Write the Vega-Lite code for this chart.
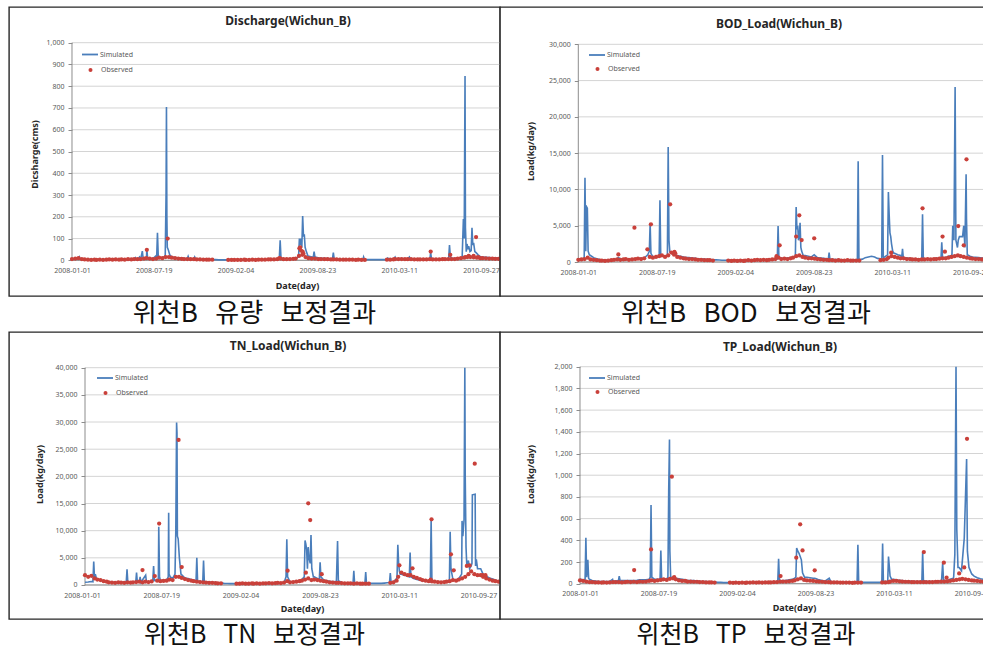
{
"$schema": "https://vega.github.io/schema/vega-lite/v6.json",
"padding": {"left": 8, "top": 6, "right": 0, "bottom": 0},
"background": "white",
"spacing": 0,
"columns": 2,
"align": "each",
"bounds": "flush",
"config": {
  "view": {"stroke": "#262626", "strokeWidth": 1.4, "fill": "white"},
  "axis": {"labelFont": "Noto Sans", "labelFontSize": 7, "labelColor": "#595959", "titleFont": "Noto Sans", "titleFontSize": 9, "titleFontWeight": "bold", "titleColor": "#262626", "grid": false, "domain": false, "labelFlush": false, "labelOverlap": false},
  "legend": {"labelFont": "Noto Sans", "labelFontSize": 7, "labelColor": "#595959", "padding": 0},
  "title": {"font": "Noto Sans", "fontSize": 12, "fontWeight": "bold", "color": "#262626"}
},
"resolve": {"scale": {"stroke": "independent", "fill": "independent", "x": "independent", "y": "independent"}, "legend": {"stroke": "independent", "fill": "independent"}},
"datasets": {
"gq": [{"g":0},{"g":100},{"g":200},{"g":300},{"g":400},{"g":500},{"g":600},{"g":700},{"g":800},{"g":900},{"g":1000}],
"gb": [{"g":0},{"g":5000},{"g":10000},{"g":15000},{"g":20000},{"g":25000},{"g":30000}],
"gn": [{"g":0},{"g":5000},{"g":10000},{"g":15000},{"g":20000},{"g":25000},{"g":30000},{"g":35000},{"g":40000}],
"gp": [{"g":0},{"g":200},{"g":400},{"g":600},{"g":800},{"g":1000},{"g":1200},{"g":1400},{"g":1600},{"g":1800},{"g":2000}],
"main": [
{"d":"2008-01-01","qs":5,"qo":6,"bs":400,"bo":300,"ns":500,"no":1800,"ps":40,"po":30},
{"d":"2008-01-09","qs":6,"qo":8,"bs":450,"bo":350,"ns":550,"no":1500,"ps":35,"po":25},
{"d":"2008-01-17","qs":6,"qo":10,"bo":400,"ns":650,"no":1700,"po":20},
{"d":"2008-01-25","qs":5,"qo":6,"bo":600,"no":1200,"ps":40,"po":15},
{"d":"2008-02-01","qs":4,"qo":4,"bs":900,"bo":350,"ns":1100,"no":1000,"ps":30,"po":15},
{"d":"2008-02-09","qs":3,"qo":3,"bs":600,"bo":300,"ns":900,"no":900,"ps":25,"po":12},
{"d":"2008-02-17","qs":3,"qo":2,"bs":450,"bo":250,"ns":750,"no":700,"ps":22,"po":12},
{"d":"2008-02-25","qs":3,"qo":3,"bs":350,"bo":200,"ns":650,"no":600,"ps":20,"po":10},
{"d":"2008-03-01","qs":3,"qo":2,"bs":300,"bo":200,"ns":550,"no":500,"ps":20,"po":12},
{"d":"2008-03-09","qs":3,"qo":3,"bs":300,"bo":150,"ns":500,"no":450,"ps":20,"po":10},
{"d":"2008-03-17","qs":3,"qo":2,"bs":250,"bo":200,"ns":450,"no":400,"ps":22,"po":12},
{"d":"2008-03-25","qs":4,"qo":3,"bs":300,"bo":250,"ns":450,"no":500,"ps":25,"po":15},
{"d":"2008-04-01","qs":4,"qo":4,"bs":350,"bo":300,"ns":500,"no":450,"ps":25,"po":15},
{"d":"2008-04-09","qs":3,"qo":3,"bs":400,"bo":350,"ns":500,"no":400,"po":15},
{"d":"2008-04-17","qs":3,"qo":4,"bs":450,"bo":300,"no":500,"ps":28,"po":12},
{"d":"2008-04-25","qs":4,"qo":3,"bs":400,"bo":350,"ns":500,"no":450,"ps":30,"po":15},
{"d":"2008-05-01","qs":4,"qo":4,"bs":400,"bo":400,"ns":500,"no":500,"ps":30,"po":18},
{"d":"2008-05-09","qs":3,"qo":3,"bs":350,"bo":300,"no":550,"ps":28,"po":15},
{"d":"2008-05-17","qs":4,"qo":5,"bs":400,"bo":350,"ns":500,"no":600,"ps":30,"po":18},
{"d":"2008-05-25","qs":4,"qo":4,"bs":450,"bo":400,"no":500,"ps":32,"po":15},
{"d":"2008-06-01","qs":5,"qo":6,"bs":500,"bo":450,"no":600,"ps":35,"po":20},
{"d":"2008-06-09","qs":4,"qo":5,"bs":500,"bo":400,"ns":550,"no":550,"ps":35,"po":18},
{"d":"2008-06-17","qs":6,"qo":6,"bs":550,"bo":500,"ns":600,"no":650,"ps":35,"po":20},
{"d":"2008-06-25","qs":8,"qo":8,"bo":1750,"no":1650,"ps":40,"po":25},
{"d":"2008-07-01","qs":8,"qo":10,"bo":700,"ns":900,"no":800,"po":30},
{"d":"2008-07-09","qs":8,"qo":8,"bs":700,"bo":600,"ns":900,"no":700,"ps":40,"po":25},
{"d":"2008-07-17","qs":8,"qo":6,"bs":650,"bo":700,"ns":800,"no":750,"ps":40,"po":30},
{"d":"2008-07-25","qo":8,"bo":800,"ns":900,"no":800,"po":35},
{"d":"2008-08-01","qs":12,"qo":12,"bs":900,"bo":900,"no":1000,"ps":45,"po":40},
{"d":"2008-08-09","qs":10,"qo":10,"bs":800,"bo":700,"ns":1200,"no":900,"ps":40,"po":35},
{"d":"2008-08-17","qo":15,"bo":900,"no":1500,"po":45},
{"d":"2008-08-25","qo":15,"bs":1200,"bo":1300,"no":1500,"po":50},
{"d":"2008-09-01","qs":15,"qo":12,"bs":1000,"bo":1000,"no":1300,"ps":50,"po":40},
{"d":"2008-09-09","qs":13,"qo":10,"bs":900,"bo":700,"ns":1300,"no":1100,"ps":45,"po":30},
{"d":"2008-09-17","qs":12,"qo":8,"bs":800,"bo":600,"ns":1200,"no":900,"ps":40,"po":25},
{"d":"2008-09-25","qs":10,"qo":7,"bs":700,"bo":500,"ns":1000,"no":800,"ps":35,"po":25},
{"d":"2008-10-01","qs":9,"qo":6,"bs":650,"bo":450,"ns":900,"no":700,"ps":30,"po":20},
{"d":"2008-10-09","qs":8,"qo":6,"bs":600,"bo":400,"no":600,"ps":30,"po":20},
{"d":"2008-10-17","qs":7,"qo":5,"bs":550,"bo":400,"ns":700,"no":550,"ps":28,"po":18},
{"d":"2008-10-25","qs":7,"qo":5,"bs":500,"bo":350,"no":500,"ps":25,"po":18},
{"d":"2008-11-01","qs":5,"qo":4,"bs":450,"bo":300,"ns":600,"no":450,"ps":22,"po":15},
{"d":"2008-11-09","qs":5,"qo":4,"bs":400,"bo":300,"ns":550,"no":400,"ps":20,"po":15},
{"d":"2008-11-17","qs":4,"qo":3,"bs":400,"bo":250,"ns":500,"no":400,"ps":20,"po":12},
{"d":"2008-11-25","qs":4,"qo":3,"bs":350,"bo":250,"ns":450,"no":350,"ps":18,"po":12},
{"d":"2008-12-01","qs":4,"qo":3,"bs":350,"bo":250,"ns":400,"no":300,"ps":15,"po":12},
{"d":"2008-12-09","qs":3,"qo":3,"bs":300,"bo":200,"ns":350,"no":300,"ps":15,"po":10},
{"d":"2008-12-17","qs":3,"bs":300,"ns":300,"ps":12},
{"d":"2008-12-25","qs":2,"bs":280,"ns":280,"ps":12},
{"d":"2009-01-01","qs":2,"bs":250,"ns":250,"ps":10},
{"d":"2009-01-09","qs":2,"bs":250,"ns":250,"ps":10},
{"d":"2009-01-17","qs":2,"qo":2,"bs":250,"bo":200,"ns":240,"no":250,"ps":10,"po":10},
{"d":"2009-01-25","qs":2,"qo":2,"bs":250,"bo":150,"ns":230,"no":250,"ps":10,"po":8},
{"d":"2009-02-01","qs":2,"qo":2,"bs":240,"bo":200,"ns":220,"no":300,"ps":10,"po":10},
{"d":"2009-02-09","qs":2,"qo":2,"bs":240,"bo":150,"ns":200,"no":250,"ps":10,"po":8},
{"d":"2009-02-17","qs":2,"qo":2,"bs":230,"bo":200,"ns":200,"no":250,"ps":9,"po":10},
{"d":"2009-02-25","qs":2,"qo":3,"bs":230,"bo":150,"ns":200,"no":300,"ps":9,"po":8},
{"d":"2009-03-01","qs":2,"qo":2,"bs":230,"bo":200,"ns":200,"no":250,"ps":9,"po":10},
{"d":"2009-03-09","qs":2,"qo":2,"bs":240,"bo":250,"ns":200,"no":300,"ps":10,"po":10},
{"d":"2009-03-17","qs":2,"qo":3,"bs":250,"bo":200,"ns":220,"no":250,"ps":10,"po":12},
{"d":"2009-03-25","qs":2,"qo":2,"bs":260,"bo":250,"ns":230,"no":300,"ps":11,"po":10},
{"d":"2009-04-01","qs":2,"qo":3,"bs":280,"bo":300,"ns":250,"no":300,"ps":12,"po":12},
{"d":"2009-04-09","qs":2,"qo":3,"bs":300,"bo":250,"ns":260,"no":350,"ps":12,"po":10},
{"d":"2009-04-17","qs":3,"qo":3,"bs":300,"bo":300,"ns":280,"no":300,"ps":13,"po":12},
{"d":"2009-04-25","qs":3,"qo":4,"bs":320,"bo":250,"ns":300,"no":350,"ps":14,"po":12},
{"d":"2009-05-01","qs":3,"qo":4,"bs":330,"bo":300,"ns":300,"no":400,"ps":15,"po":12},
{"d":"2009-05-09","qs":3,"qo":4,"bs":350,"bo":350,"ns":320,"no":350,"ps":15,"po":14},
{"d":"2009-05-17","qs":4,"qo":5,"bs":380,"bo":400,"ns":350,"no":450,"ps":18,"po":15},
{"d":"2009-05-25","qo":8,"bo":600,"no":700,"ps":25,"po":20},
{"d":"2009-06-01","qs":6,"qo":5,"bs":500,"bo":400,"ns":600,"no":500,"ps":30,"po":20},
{"d":"2009-06-09","qs":6,"qo":5,"bs":500,"bo":450,"ns":600,"no":550,"ps":30,"po":20},
{"d":"2009-06-17","qs":7,"qo":6,"bs":550,"bo":400,"ns":700,"no":600,"ps":35,"po":22},
{"d":"2009-06-25","qs":8,"qo":7,"bs":600,"bo":500,"ns":800,"no":700,"ps":40,"po":25},
{"d":"2009-07-01","qs":10,"qo":8,"bs":700,"bo":600,"ns":1000,"no":800,"ps":50,"po":30},
{"d":"2009-07-09","qo":20,"bo":800,"no":1000,"po":40},
{"d":"2009-07-17","qo":25,"bo":900,"no":1200,"po":50},
{"d":"2009-07-25","qo":15,"bo":700,"no":900,"po":35},
{"d":"2009-08-01","qs":20,"qo":10,"bs":900,"bo":600,"ns":1500,"no":1000,"ps":60,"po":30},
{"d":"2009-08-09","qs":15,"qo":8,"bs":800,"bo":500,"ns":1200,"no":900,"ps":55,"po":28},
{"d":"2009-08-17","qo":8,"bs":700,"bo":500,"no":800,"ps":50,"po":25},
{"d":"2009-08-25","qs":12,"qo":6,"bo":450,"ns":900,"no":700,"ps":45,"po":22},
{"d":"2009-09-01","qs":10,"qo":6,"bs":600,"bo":400,"ns":800,"no":600,"ps":35,"po":20},
{"d":"2009-09-09","qs":9,"qo":5,"bs":550,"bo":350,"ns":700,"no":500,"ps":30,"po":18},
{"d":"2009-09-17","qs":8,"qo":5,"bs":500,"bo":300,"ns":650,"no":450,"ps":25,"po":15},
{"d":"2009-09-25","qs":7,"qo":4,"bs":450,"bo":300,"ns":600,"no":400,"po":15},
{"d":"2009-10-01","qo":4,"bo":250,"no":400,"ps":20,"po":12},
{"d":"2009-10-09","qs":5,"qo":4,"bs":380,"bo":250,"ns":450,"no":350,"ps":18,"po":12},
{"d":"2009-10-17","qs":5,"qo":3,"bs":350,"bo":200,"ns":400,"no":300,"ps":15,"po":12},
{"d":"2009-10-25","qs":4,"qo":3,"bs":330,"bo":250,"ns":380,"no":300,"ps":14,"po":10},
{"d":"2009-11-01","qs":4,"qo":3,"bs":320,"bo":200,"ns":350,"no":300,"ps":13,"po":10},
{"d":"2009-11-09","qs":4,"qo":3,"bs":300,"bo":200,"no":250,"ps":12,"po":10},
{"d":"2009-11-17","qs":3,"qo":3,"bs":300,"bo":250,"ns":320,"no":300,"ps":12,"po":10},
{"d":"2009-11-25","qs":3,"qo":2,"bs":300,"bo":200,"ns":300,"no":250,"ps":12,"po":8},
{"d":"2009-12-01","qs":3,"qo":3,"bs":300,"bo":200,"ns":300,"no":250,"ps":12,"po":10},
{"d":"2009-12-09","qs":3,"qo":2,"bs":300,"bo":200,"no":250,"po":10},
{"d":"2009-12-17","qs":3,"qo":2,"bs":350,"bo":200,"ns":300,"no":250,"ps":12,"po":10},
{"d":"2009-12-25","qs":3,"bs":400,"ns":300,"ps":12},
{"d":"2010-01-01","qs":3,"bs":600,"ns":300,"ps":12},
{"d":"2010-01-09","qs":3,"bs":700,"ns":300,"ps":12},
{"d":"2010-01-17","qs":3,"bs":800,"ns":300,"ps":12},
{"d":"2010-01-25","qs":3,"bs":700,"ns":350,"ps":12},
{"d":"2010-02-01","qs":3,"bs":500,"ns":400,"ps":12},
{"d":"2010-02-09","qs":3,"qo":3,"bs":450,"bo":250,"no":400,"po":12},
{"d":"2010-02-17","qs":4,"qo":3,"bs":600,"bo":300,"ns":600,"no":500,"ps":20,"po":12},
{"d":"2010-02-25","qs":6,"qo":4,"bs":900,"bo":400,"ns":1200,"no":800,"po":15},
{"d":"2010-03-01","qo":6,"bo":600,"no":1500,"po":20},
{"d":"2010-03-09","qs":8,"qo":6,"bo":800,"ns":2000,"no":2300,"ps":40,"po":25},
{"d":"2010-03-17","qs":8,"qo":6,"bs":1200,"bo":700,"ns":1800,"no":2000,"ps":35,"po":25},
{"d":"2010-03-25","qs":7,"qo":5,"bs":1000,"bo":600,"ns":1600,"no":1800,"ps":30,"po":22},
{"d":"2010-04-01","qs":7,"qo":5,"bs":900,"bo":500,"no":1800,"ps":28,"po":20},
{"d":"2010-04-09","qs":6,"qo":5,"bs":600,"bo":500,"ns":1200,"no":1500,"ps":25,"po":18},
{"d":"2010-04-17","qs":6,"qo":4,"bs":550,"bo":400,"ns":1000,"no":1300,"ps":22,"po":18},
{"d":"2010-04-25","qs":5,"qo":4,"bs":500,"bo":400,"ns":900,"no":1100,"ps":22,"po":15},
{"d":"2010-05-01","qs":5,"qo":4,"bs":450,"bo":350,"ns":800,"no":900,"ps":20,"po":15},
{"d":"2010-05-09","qs":5,"qo":4,"bs":400,"bo":350,"ns":700,"no":800,"ps":20,"po":15},
{"d":"2010-05-17","qs":5,"qo":4,"bs":400,"bo":300,"ns":650,"no":700,"ps":20,"po":15},
{"d":"2010-05-25","qo":5,"bo":350,"no":650,"po":15},
{"d":"2010-06-01","qs":5,"qo":4,"bs":400,"bo":350,"ns":550,"no":600,"ps":20,"po":15},
{"d":"2010-06-09","qs":5,"qo":4,"bs":400,"bo":400,"ns":500,"no":550,"ps":20,"po":15},
{"d":"2010-06-17","qs":5,"qo":4,"bs":400,"bo":350,"ns":500,"no":500,"ps":20,"po":15},
{"d":"2010-06-25","qs":6,"qo":5,"bs":450,"bo":400,"ns":550,"no":550,"ps":22,"po":18},
{"d":"2010-07-01","qs":7,"qo":5,"bs":500,"bo":400,"ns":600,"no":600,"ps":25,"po":18},
{"d":"2010-07-09","qo":6,"bs":500,"bo":450,"no":700,"po":20},
{"d":"2010-07-17","qs":10,"qo":6,"bo":500,"ns":1000,"no":900,"ps":30,"po":20},
{"d":"2010-07-25","qs":8,"qo":6,"bs":600,"bo":500,"ns":900,"no":800,"ps":30,"po":22},
{"d":"2010-08-01","qs":10,"qo":8,"bs":800,"bo":600,"ns":1200,"no":1000,"ps":40,"po":25},
{"d":"2010-08-09","qs":12,"qo":10,"bs":900,"bo":700,"no":1200,"ps":50,"po":30},
{"d":"2010-08-17","qo":12,"bo":800,"no":1500,"po":35},
{"d":"2010-08-25","qo":15,"bo":900,"no":2000,"po":40},
{"d":"2010-09-01","qo":15,"bo":800,"no":2500,"po":45},
{"d":"2010-09-09","qo":14,"bo":700,"no":2000,"po":40},
{"d":"2010-09-17","qo":12,"bo":600,"no":1800,"po":35},
{"d":"2010-09-25","qo":10,"bs":800,"bo":500,"ns":3000,"no":1800,"ps":90,"po":30},
{"d":"2010-10-01","qs":15,"qo":10,"bs":700,"bo":450,"ns":2000,"no":1500,"ps":70,"po":28},
{"d":"2010-10-09","qs":14,"qo":9,"bs":650,"bo":400,"ns":1600,"no":1200,"ps":55,"po":25},
{"d":"2010-10-17","qs":13,"qo":8,"bs":600,"bo":400,"ns":1300,"no":1000,"ps":45,"po":22},
{"d":"2010-10-25","qs":12,"qo":8,"bs":550,"bo":350,"ns":1100,"no":800,"ps":40,"po":20},
{"d":"2010-11-01","qs":11,"qo":7,"bs":500,"bo":350,"ns":900,"no":700,"ps":35,"po":18},
{"d":"2010-11-09","qs":10,"qo":7,"bs":480,"bo":300,"ns":700,"no":600,"ps":30,"po":18},
{"d":"2010-11-17","qs":10,"qo":6,"bs":450,"bo":300,"ns":600,"no":550,"ps":28,"po":15},
{"d":"2010-11-25","qs":9,"qo":6,"bs":420,"bo":300,"ns":550,"no":500,"ps":25,"po":15},
{"d":"2010-12-01","qs":8,"qo":5,"bs":400,"bo":250,"ns":500,"no":450,"ps":25,"po":15},
{"d":"2008-01-19","qs":15},{"d":"2008-01-21","qs":6},
{"d":"2008-06-04","qs":12},{"d":"2008-06-06","qs":4},
{"d":"2008-06-14","qs":15},{"d":"2008-06-16","qs":5},
{"d":"2008-06-21","qs":42},{"d":"2008-06-23","qs":8},
{"d":"2008-07-02","qs":50,"qo":48},{"d":"2008-07-04","qs":8},
{"d":"2008-07-24","qs":20},{"d":"2008-07-26","qs":8},
{"d":"2008-07-28","qs":127},{"d":"2008-07-30","qs":15},
{"d":"2008-08-16","qs":20},{"d":"2008-08-18","qs":300},{"d":"2008-08-19","qs":705},{"d":"2008-08-20","qs":200},{"d":"2008-08-21","qs":60},{"d":"2008-08-22","qs":55,"qo":100},{"d":"2008-08-24","qs":45},{"d":"2008-08-27","qs":25},
{"d":"2008-10-11","qs":18},{"d":"2008-10-13","qs":7},
{"d":"2008-10-27","qs":15},{"d":"2008-10-29","qs":6},
{"d":"2009-05-22","qs":10,"qo":10},{"d":"2009-05-24","qs":92},{"d":"2009-05-26","qs":10},
{"d":"2009-07-08","qs":15},{"d":"2009-07-10","qs":100,"qo":55},{"d":"2009-07-12","qs":70,"qo":60},{"d":"2009-07-14","qs":100,"qo":45},{"d":"2009-07-16","qs":60},{"d":"2009-07-18","qs":204,"qo":40},{"d":"2009-07-20","qs":110,"qo":30},{"d":"2009-07-22","qs":120},{"d":"2009-07-24","qs":60},{"d":"2009-07-27","qs":40},{"d":"2009-07-31","qs":20},
{"d":"2009-08-13","qs":15},{"d":"2009-08-15","qs":40},{"d":"2009-08-17","qs":15},
{"d":"2009-09-29","qs":8},{"d":"2009-10-01","qs":35},{"d":"2009-10-03","qs":8},
{"d":"2009-12-12","qs":3},{"d":"2009-12-14","qs":15},{"d":"2009-12-16","qs":3},
{"d":"2010-02-11","qs":10},
{"d":"2010-03-01","qs":15},{"d":"2010-03-03","qs":5},
{"d":"2010-04-05","qs":15},{"d":"2010-04-07","qs":6},
{"d":"2010-05-25","qs":6},{"d":"2010-05-27","qs":35,"qo":40},{"d":"2010-05-29","qs":6},
{"d":"2010-07-10","qs":8},{"d":"2010-07-12","qs":70},{"d":"2010-07-14","qs":20,"qo":25},{"d":"2010-07-16","qs":10},
{"d":"2010-08-12","qs":15},{"d":"2010-08-15","qs":190},{"d":"2010-08-17","qs":100},{"d":"2010-08-19","qs":847},{"d":"2010-08-20","qs":150,"qo":15},{"d":"2010-08-22","qs":40},{"d":"2010-08-24","qs":75},{"d":"2010-08-26","qs":50},{"d":"2010-08-28","qs":65,"qo":20},{"d":"2010-08-31","qs":40},{"d":"2010-09-03","qs":45},{"d":"2010-09-05","qs":150},{"d":"2010-09-07","qs":70},{"d":"2010-09-09","qs":80,"qo":20},{"d":"2010-09-12","qs":40},{"d":"2010-09-15","qs":35,"qo":107},{"d":"2010-09-20","qs":25,"qo":15},{"d":"2010-09-27","qs":15},
{"d":"2008-01-16","bs":500},{"d":"2008-01-18","bs":11600},{"d":"2008-01-20","bs":1500},{"d":"2008-01-22","bs":7600},{"d":"2008-01-24","bs":7400},{"d":"2008-01-26","bs":1500},{"d":"2008-01-29","bs":1000},
{"d":"2008-04-12","bs":600,"bo":1050},
{"d":"2008-05-23","bo":4730},
{"d":"2008-06-26","bs":1000},
{"d":"2008-06-30","bs":1500},{"d":"2008-07-02","bs":5330},{"d":"2008-07-04","bs":1200,"bo":5200},
{"d":"2008-07-25","bs":800},{"d":"2008-07-27","bs":8500},{"d":"2008-07-29","bs":900},
{"d":"2008-08-15","bs":900},{"d":"2008-08-17","bs":15850},{"d":"2008-08-19","bs":3000},{"d":"2008-08-21","bs":1500},{"d":"2008-08-22","bo":7950},
{"d":"2008-09-02","bo":1380},{"d":"2008-09-04","bo":1200},
{"d":"2009-05-20","bs":500,"bo":800},{"d":"2009-05-22","bs":450},{"d":"2009-05-24","bs":4960},{"d":"2009-05-26","bs":700},{"d":"2009-05-28","bo":2300},
{"d":"2009-07-07","bs":800},{"d":"2009-07-09","bs":7580,"bo":3500},{"d":"2009-07-11","bs":4500},{"d":"2009-07-13","bs":5000},{"d":"2009-07-15","bs":3000},{"d":"2009-07-17","bs":3500,"bo":6430},{"d":"2009-07-19","bs":5400},{"d":"2009-07-21","bs":2000},{"d":"2009-07-23","bs":1500,"bo":3030},{"d":"2009-07-27","bs":900},
{"d":"2009-08-24","bs":1000,"bo":3260},
{"d":"2009-09-29","bs":400},{"d":"2009-10-01","bs":1300},{"d":"2009-10-03","bs":400},
{"d":"2009-12-12","bs":350},{"d":"2009-12-14","bs":13900},{"d":"2009-12-16","bs":400},
{"d":"2010-02-12","bs":450},{"d":"2010-02-14","bs":14750},{"d":"2010-02-16","bs":700},
{"d":"2010-02-27","bs":1000},{"d":"2010-03-01","bs":9650},{"d":"2010-03-03","bs":6500},{"d":"2010-03-05","bs":4000},{"d":"2010-03-07","bs":3500},{"d":"2010-03-08","bo":1290},{"d":"2010-03-09","bs":2500},{"d":"2010-03-12","bs":1500},{"d":"2010-03-15","bs":1200},
{"d":"2010-04-04","bs":700},{"d":"2010-04-06","bs":1800},{"d":"2010-04-08","bs":600},
{"d":"2010-05-25","bs":400},{"d":"2010-05-27","bs":6570,"bo":7400},{"d":"2010-05-29","bs":450},
{"d":"2010-07-13","bs":500},{"d":"2010-07-15","bs":2700},{"d":"2010-07-17","bs":600,"bo":3500},{"d":"2010-07-23","bo":1420},
{"d":"2010-08-10","bs":1000},{"d":"2010-08-12","bs":5000},{"d":"2010-08-15","bs":3000},{"d":"2010-08-18","bs":24100},{"d":"2010-08-20","bs":3000},{"d":"2010-08-24","bs":2000},{"d":"2010-08-26","bs":3000,"bo":4960},{"d":"2010-08-29","bs":3500},{"d":"2010-09-02","bs":3500},{"d":"2010-09-06","bs":3500},{"d":"2010-09-09","bs":5000,"bo":2300},{"d":"2010-09-12","bs":2000},{"d":"2010-09-15","bs":12080},{"d":"2010-09-16","bs":6000,"bo":14150},{"d":"2010-09-18","bs":1000},
{"d":"2008-01-21","ns":600},{"d":"2008-01-23","ns":4300},{"d":"2008-01-25","ns":1200},{"d":"2008-01-27","ns":2000},{"d":"2008-01-30","ns":1100},
{"d":"2008-04-14","ns":500},{"d":"2008-04-16","ns":2900},{"d":"2008-04-18","ns":500},
{"d":"2008-05-08","ns":500},{"d":"2008-05-10","ns":2300},{"d":"2008-05-12","ns":500},
{"d":"2008-05-19","ns":1500},{"d":"2008-05-21","ns":500},{"d":"2008-05-25","no":2760},{"d":"2008-06-02","ns":1800},{"d":"2008-06-04","ns":600},
{"d":"2008-06-20","ns":800},{"d":"2008-06-22","ns":3500},{"d":"2008-06-24","ns":800},
{"d":"2008-07-04","ns":1000},{"d":"2008-07-05","ns":10700},{"d":"2008-07-06","no":11300},{"d":"2008-07-07","ns":1500},
{"d":"2008-07-29","ns":1500},{"d":"2008-07-30","ns":13300},{"d":"2008-07-31","ns":2000},{"d":"2008-08-03","ns":1500},
{"d":"2008-08-15","ns":2000},{"d":"2008-08-17","ns":10000},{"d":"2008-08-19","ns":29900},{"d":"2008-08-20","ns":28000},{"d":"2008-08-21","ns":9000},{"d":"2008-08-23","ns":8500},{"d":"2008-08-24","no":26700},{"d":"2008-08-26","ns":5000},{"d":"2008-08-30","ns":2000},{"d":"2008-09-01","no":3300},{"d":"2008-09-06","ns":1500},
{"d":"2008-10-07","ns":700},{"d":"2008-10-09","ns":5000},{"d":"2008-10-11","ns":700},
{"d":"2008-10-24","ns":600},{"d":"2008-10-26","ns":4500},{"d":"2008-10-28","ns":600},
{"d":"2009-05-22","ns":1500},{"d":"2009-05-24","ns":8400},{"d":"2009-05-26","ns":1500,"no":2640},
{"d":"2009-07-07","ns":1500},{"d":"2009-07-09","ns":8200},{"d":"2009-07-11","ns":7500,"no":2270},{"d":"2009-07-13","ns":6500},{"d":"2009-07-15","ns":3000},{"d":"2009-07-17","ns":7000,"no":15030},{"d":"2009-07-19","ns":5000},{"d":"2009-07-22","ns":4000,"no":11960},{"d":"2009-07-24","ns":9200},{"d":"2009-07-26","ns":3000},{"d":"2009-07-30","ns":1500},
{"d":"2009-08-14","ns":1000},{"d":"2009-08-16","ns":4200},{"d":"2009-08-18","ns":1500},{"d":"2009-08-20","no":2000},
{"d":"2009-09-26","ns":500},{"d":"2009-09-29","ns":8100},{"d":"2009-10-01","ns":800},
{"d":"2009-11-07","ns":300},{"d":"2009-11-09","ns":2600},{"d":"2009-11-11","ns":300},
{"d":"2009-12-07","ns":300},{"d":"2009-12-09","ns":2400},{"d":"2009-12-11","ns":300},
{"d":"2010-02-07","ns":450},{"d":"2010-02-09","ns":2200},{"d":"2010-02-11","ns":500},
{"d":"2010-02-26","ns":1500},{"d":"2010-02-28","ns":7400},{"d":"2010-03-02","ns":4000},{"d":"2010-03-04","ns":2500,"no":3620},{"d":"2010-03-06","ns":2000},
{"d":"2010-03-29","ns":1500},{"d":"2010-03-31","ns":6000},{"d":"2010-04-02","ns":1500},{"d":"2010-04-06","no":3070},
{"d":"2010-05-21","ns":600},{"d":"2010-05-22","no":1000},{"d":"2010-05-23","ns":12000},{"d":"2010-05-24","no":12090},{"d":"2010-05-25","ns":800},
{"d":"2010-07-08","ns":500},{"d":"2010-07-10","ns":9800},{"d":"2010-07-12","ns":3000,"no":5640},{"d":"2010-07-19","no":2700},
{"d":"2010-08-08","ns":2000},{"d":"2010-08-09","ns":11800},{"d":"2010-08-11","ns":9000},{"d":"2010-08-14","ns":12000},{"d":"2010-08-16","ns":40000},{"d":"2010-08-17","ns":20000},{"d":"2010-08-19","ns":7000},{"d":"2010-08-21","ns":3500,"no":3500},{"d":"2010-08-25","ns":4500},{"d":"2010-08-28","ns":3000,"no":3600},{"d":"2010-09-01","ns":3500},{"d":"2010-09-03","ns":4000},{"d":"2010-09-04","ns":16600},{"d":"2010-09-10","no":22330},{"d":"2010-09-11","ns":16700},{"d":"2010-09-12","ns":3500},{"d":"2010-09-14","ns":4700},{"d":"2010-09-17","ns":3000},{"d":"2010-09-30","no":1840},{"d":"2010-10-07","no":1800},
{"d":"2008-01-14","ps":40},{"d":"2008-01-16","ps":424},{"d":"2008-01-18","ps":60},{"d":"2008-01-21","ps":220},{"d":"2008-01-23","ps":50},
{"d":"2008-03-24","ps":40},
{"d":"2008-04-08","ps":30},{"d":"2008-04-10","ps":70},{"d":"2008-04-12","ps":30},
{"d":"2008-05-18","po":126},
{"d":"2008-06-28","ps":60},{"d":"2008-06-30","ps":725,"po":316},{"d":"2008-07-02","ps":60},
{"d":"2008-07-23","ps":40},{"d":"2008-07-25","ps":307},{"d":"2008-07-27","ps":40},
{"d":"2008-08-12","ps":60},{"d":"2008-08-14","ps":850},{"d":"2008-08-16","ps":1330},{"d":"2008-08-17","ps":300},{"d":"2008-08-19","ps":60},{"d":"2008-08-22","po":986},{"d":"2008-08-28","ps":55,"po":60},
{"d":"2009-05-19","ps":30},{"d":"2009-05-21","ps":230},{"d":"2009-05-23","ps":40},{"d":"2009-05-26","po":70},
{"d":"2009-07-04","ps":60},{"d":"2009-07-05","po":240},{"d":"2009-07-06","ps":330},{"d":"2009-07-09","ps":300},{"d":"2009-07-12","ps":280},{"d":"2009-07-15","ps":250,"po":547},{"d":"2009-07-18","ps":220},{"d":"2009-07-21","ps":100,"po":307},{"d":"2009-07-26","ps":60},
{"d":"2009-08-21","ps":50,"po":123},
{"d":"2009-09-27","ps":50},
{"d":"2009-12-07","ps":15},{"d":"2009-12-09","ps":360},{"d":"2009-12-11","ps":15},
{"d":"2010-02-08","ps":15},{"d":"2010-02-10","ps":370},{"d":"2010-02-12","ps":20},
{"d":"2010-02-23","ps":20},{"d":"2010-02-25","ps":250},{"d":"2010-02-27","ps":160},{"d":"2010-03-01","ps":70},{"d":"2010-03-05","ps":40},
{"d":"2010-05-21","ps":20},{"d":"2010-05-23","ps":290},{"d":"2010-05-25","ps":30},{"d":"2010-05-26","po":292},
{"d":"2010-07-10","ps":20},{"d":"2010-07-13","ps":190},{"d":"2010-07-15","ps":40},{"d":"2010-07-16","po":194},{"d":"2010-07-23","po":55},
{"d":"2010-08-10","ps":60},{"d":"2010-08-13","ps":270},{"d":"2010-08-16","ps":2000},{"d":"2010-08-18","ps":500},{"d":"2010-08-21","ps":150},{"d":"2010-08-24","ps":150,"po":95},{"d":"2010-08-30","ps":120},{"d":"2010-09-06","ps":420,"po":150},{"d":"2010-09-12","ps":1150},{"d":"2010-09-13","po":1336},{"d":"2010-09-14","ps":300},{"d":"2010-09-18","ps":150}
]
},
"concat": [
{
 "width": 491, "height": 289,
 "title": {"text": "Discharge(Wichun_B)", "anchor": "middle", "frame": "group", "offset": -26, "dx": 33.5, "baseline": "middle"},
 "layer": [
  {"data": {"name": "gq"}, "mark": {"type": "rule", "color": "#d4d4d4", "strokeWidth": 1, "clip": true},
   "encoding": {"x": {"datum": {"year": 2008, "month": 1, "date": 1, "utc": true}, "type": "temporal"}, "x2": {"datum": {"year": 2011, "month": 1, "date": 1, "utc": true}}, "y": {"field": "g", "type": "quantitative"}}},
  {"data": {"name": "gq"}, "mark": {"type": "rule", "color": "#8c8c8c", "strokeWidth": 1},
   "encoding": {"x": {"datum": {"year": 2008, "month": 1, "date": 1, "utc": true}, "type": "temporal"}, "y": {"aggregate": "min", "field": "g", "type": "quantitative"}, "y2": {"aggregate": "max", "field": "g"}}},
  {"data": {"name": "gq"}, "transform": [{"filter": "datum.g == 0"}], "mark": {"type": "rule", "color": "#8c8c8c", "strokeWidth": 1, "clip": true},
   "encoding": {"x": {"datum": {"year": 2008, "month": 1, "date": 1, "utc": true}, "type": "temporal"}, "x2": {"datum": {"year": 2011, "month": 1, "date": 1, "utc": true}}, "y": {"field": "g", "type": "quantitative"}}},
  {"data": {"name": "main"}, "transform": [{"filter": {"field": "qs", "valid": true}}],
   "mark": {"type": "line", "strokeWidth": 1.6, "clip": true},
   "encoding": {
     "x": {"field": "d", "type": "temporal", "scale": {"type": "utc", "domain": [1185840000000, 1289563200000], "nice": false},
           "axis": {"orient": "bottom", "offset": -35.7, "values": [1199145600000, 1216425600000, 1233705600000, 1250985600000, 1268265600000, 1285545600000], "tickCount": 30, "format": "%Y-%m-%d", "ticks": false, "labelPadding": 6, "labelOverlap": false, "title": "Date(day)", "titleX": 288, "titleY": 24.7, "titleBaseline": "middle", "titleAlign": "center"}},
     "y": {"field": "qs", "type": "quantitative", "scale": {"domain": [-164, 1164], "nice": false, "zero": false},
           "axis": {"orient": "left", "offset": -63, "values": [0, 100, 200, 300, 400, 500, 600, 700, 800, 900, 1000], "tickCount": 30, "format": ",d", "labelOverlap": false, "ticks": true, "tickSize": 4, "tickColor": "#8c8c8c", "labelPadding": 4, "title": "Dicsharge(cms)", "titleX": -38, "titleY": 147, "titleAngle": -90, "titleBaseline": "middle", "titleAlign": "center"}},
     "stroke": {"datum": "Simulated", "type": "nominal", "scale": {"range": ["#4a7ebb"]}, "legend": {"orient": "none", "legendX": 72, "legendY": 38.5, "title": null, "symbolType": "stroke", "symbolSize": 256, "symbolStrokeWidth": 1.8, "labelOffset": 1, "padding": 0}}}},
  {"data": {"name": "main"}, "transform": [{"filter": {"field": "qo", "valid": true}}],
   "mark": {"type": "point", "filled": true, "size": 18, "opacity": 1, "clip": true},
   "encoding": {"x": {"field": "d", "type": "temporal"}, "y": {"field": "qo", "type": "quantitative"},
     "fill": {"datum": "Observed", "type": "nominal", "scale": {"range": ["#c9403a"]}, "legend": {"orient": "none", "legendX": 78, "legendY": 59.5, "title": null, "symbolType": "circle", "symbolSize": 16, "labelOffset": 7, "padding": 0}}}}
 ]
},
{
 "width": 484, "height": 289,
 "title": {"text": "BOD_Load(Wichun_B)", "anchor": "middle", "frame": "group", "offset": -29, "dx": 37, "baseline": "middle"},
 "layer": [
  {"data": {"name": "gb"}, "mark": {"type": "rule", "color": "#d4d4d4", "strokeWidth": 1, "clip": true},
   "encoding": {"x": {"datum": {"year": 2008, "month": 1, "date": 1, "utc": true}, "type": "temporal"}, "x2": {"datum": {"year": 2011, "month": 1, "date": 1, "utc": true}}, "y": {"field": "g", "type": "quantitative"}}},
  {"data": {"name": "gb"}, "mark": {"type": "rule", "color": "#8c8c8c", "strokeWidth": 1},
   "encoding": {"x": {"datum": {"year": 2008, "month": 1, "date": 1, "utc": true}, "type": "temporal"}, "y": {"aggregate": "min", "field": "g", "type": "quantitative"}, "y2": {"aggregate": "max", "field": "g"}}},
  {"data": {"name": "gb"}, "transform": [{"filter": "datum.g == 0"}], "mark": {"type": "rule", "color": "#8c8c8c", "strokeWidth": 1, "clip": true},
   "encoding": {"x": {"datum": {"year": 2008, "month": 1, "date": 1, "utc": true}, "type": "temporal"}, "x2": {"datum": {"year": 2011, "month": 1, "date": 1, "utc": true}}, "y": {"field": "g", "type": "quantitative"}}},
  {"data": {"name": "main"}, "transform": [{"filter": {"field": "bs", "valid": true}}],
   "mark": {"type": "line", "strokeWidth": 1.6, "clip": true},
   "encoding": {
     "x": {"field": "d", "type": "temporal", "scale": {"type": "utc", "domain": [1181908800000, 1288448640000], "nice": false},
           "axis": {"orient": "bottom", "offset": -34, "values": [1199145600000, 1216425600000, 1233705600000, 1250985600000, 1268265600000, 1285545600000], "tickCount": 30, "format": "%Y-%m-%d", "ticks": false, "labelPadding": 6, "labelOverlap": false, "title": "Date(day)", "titleX": 293, "titleY": 25, "titleBaseline": "middle", "titleAlign": "center"}},
     "y": {"field": "bs", "type": "quantitative", "scale": {"domain": [-4685, 35140], "nice": false, "zero": false},
           "axis": {"orient": "left", "offset": -78.3, "values": [0, 5000, 10000, 15000, 20000, 25000, 30000], "tickCount": 30, "format": ",d", "labelOverlap": false, "ticks": true, "tickSize": 4, "tickColor": "#8c8c8c", "labelPadding": 4, "title": "Load(kg/day)", "titleX": -48.3, "titleY": 144, "titleAngle": -90, "titleBaseline": "middle", "titleAlign": "center"}},
     "stroke": {"datum": "Simulated", "type": "nominal", "scale": {"range": ["#4a7ebb"]}, "legend": {"orient": "none", "legendX": 88, "legendY": 39, "title": null, "symbolType": "stroke", "symbolSize": 256, "symbolStrokeWidth": 1.8, "labelOffset": 1, "padding": 0}}}},
  {"data": {"name": "main"}, "transform": [{"filter": {"field": "bo", "valid": true}}],
   "mark": {"type": "point", "filled": true, "size": 18, "opacity": 1, "clip": true},
   "encoding": {"x": {"field": "d", "type": "temporal"}, "y": {"field": "bo", "type": "quantitative"},
     "fill": {"datum": "Observed", "type": "nominal", "scale": {"range": ["#c9403a"]}, "legend": {"orient": "none", "legendX": 94, "legendY": 58.5, "title": null, "symbolType": "circle", "symbolSize": 16, "labelOffset": 7, "padding": 0}}}}
 ]
},
{"width": 491, "height": 36, "data": {"values": [{"t": "위천B \u00a0\u00a0유량 \u00a0\u00a0보정결과"}]}, "mark": {"type": "text", "font": "Noto Sans CJK KR", "fontSize": 26, "color": "#111111", "baseline": "middle", "align": "center"}, "encoding": {"text": {"field": "t"}}},
{"width": 484, "height": 36, "data": {"values": [{"t": "위천B \u00a0\u00a0BOD \u00a0\u00a0보정결과"}]}, "mark": {"type": "text", "font": "Noto Sans CJK KR", "fontSize": 26, "color": "#111111", "baseline": "middle", "align": "center", "dx": 4}, "encoding": {"text": {"field": "t"}}},
{
 "width": 491, "height": 287,
 "title": {"text": "TN_Load(Wichun_B)", "anchor": "middle", "frame": "group", "offset": -26, "dx": 33.5, "baseline": "middle"},
 "layer": [
  {"data": {"name": "gn"}, "mark": {"type": "rule", "color": "#d4d4d4", "strokeWidth": 1, "clip": true},
   "encoding": {"x": {"datum": {"year": 2008, "month": 1, "date": 1, "utc": true}, "type": "temporal"}, "x2": {"datum": {"year": 2011, "month": 1, "date": 1, "utc": true}}, "y": {"field": "g", "type": "quantitative"}}},
  {"data": {"name": "gn"}, "mark": {"type": "rule", "color": "#8c8c8c", "strokeWidth": 1},
   "encoding": {"x": {"datum": {"year": 2008, "month": 1, "date": 1, "utc": true}, "type": "temporal"}, "y": {"aggregate": "min", "field": "g", "type": "quantitative"}, "y2": {"aggregate": "max", "field": "g"}}},
  {"data": {"name": "gn"}, "transform": [{"filter": "datum.g == 0"}], "mark": {"type": "rule", "color": "#8c8c8c", "strokeWidth": 1, "clip": true},
   "encoding": {"x": {"datum": {"year": 2008, "month": 1, "date": 1, "utc": true}, "type": "temporal"}, "x2": {"datum": {"year": 2011, "month": 1, "date": 1, "utc": true}}, "y": {"field": "g", "type": "quantitative"}}},
  {"data": {"name": "main"}, "transform": [{"filter": {"field": "ns", "valid": true}}],
   "mark": {"type": "line", "strokeWidth": 1.6, "clip": true},
   "encoding": {
     "x": {"field": "d", "type": "temporal", "scale": {"type": "utc", "domain": [1182582720000, 1289580480000], "nice": false},
           "axis": {"orient": "bottom", "offset": -34, "values": [1199145600000, 1216425600000, 1233705600000, 1250985600000, 1268265600000, 1285545600000], "tickCount": 30, "format": "%Y-%m-%d", "ticks": false, "labelPadding": 6, "labelOffset": -3, "labelOverlap": false, "title": "Date(day)", "titleX": 293, "titleY": 23, "titleBaseline": "middle", "titleAlign": "center"}},
     "y": {"field": "ns", "type": "quantitative", "scale": {"domain": [-6259, 46572], "nice": false, "zero": false},
           "axis": {"orient": "left", "offset": -76, "values": [0, 5000, 10000, 15000, 20000, 25000, 30000, 35000, 40000], "tickCount": 30, "format": ",d", "labelOverlap": false, "ticks": true, "tickSize": 4, "tickColor": "#8c8c8c", "labelPadding": 4, "title": "Load(kg/day)", "titleX": -46, "titleY": 142, "titleAngle": -90, "titleBaseline": "middle", "titleAlign": "center"}},
     "stroke": {"datum": "Simulated", "type": "nominal", "scale": {"range": ["#4a7ebb"]}, "legend": {"orient": "none", "legendX": 87, "legendY": 37, "title": null, "symbolType": "stroke", "symbolSize": 256, "symbolStrokeWidth": 1.8, "labelOffset": 1, "padding": 0}}}},
  {"data": {"name": "main"}, "transform": [{"filter": {"field": "no", "valid": true}}],
   "mark": {"type": "point", "filled": true, "size": 18, "opacity": 1, "clip": true},
   "encoding": {"x": {"field": "d", "type": "temporal"}, "y": {"field": "no", "type": "quantitative"},
     "fill": {"datum": "Observed", "type": "nominal", "scale": {"range": ["#c9403a"]}, "legend": {"orient": "none", "legendX": 93, "legendY": 57.5, "title": null, "symbolType": "circle", "symbolSize": 16, "labelOffset": 7, "padding": 0}}}}
 ]
},
{
 "width": 484, "height": 287,
 "title": {"text": "TP_Load(Wichun_B)", "anchor": "middle", "frame": "group", "offset": -27, "dx": 38, "baseline": "middle"},
 "layer": [
  {"data": {"name": "gp"}, "mark": {"type": "rule", "color": "#d4d4d4", "strokeWidth": 1, "clip": true},
   "encoding": {"x": {"datum": {"year": 2008, "month": 1, "date": 1, "utc": true}, "type": "temporal"}, "x2": {"datum": {"year": 2011, "month": 1, "date": 1, "utc": true}}, "y": {"field": "g", "type": "quantitative"}}},
  {"data": {"name": "gp"}, "mark": {"type": "rule", "color": "#8c8c8c", "strokeWidth": 1},
   "encoding": {"x": {"datum": {"year": 2008, "month": 1, "date": 1, "utc": true}, "type": "temporal"}, "y": {"aggregate": "min", "field": "g", "type": "quantitative"}, "y2": {"aggregate": "max", "field": "g"}}},
  {"data": {"name": "gp"}, "transform": [{"filter": "datum.g == 0"}], "mark": {"type": "rule", "color": "#8c8c8c", "strokeWidth": 1, "clip": true},
   "encoding": {"x": {"datum": {"year": 2008, "month": 1, "date": 1, "utc": true}, "type": "temporal"}, "x2": {"datum": {"year": 2011, "month": 1, "date": 1, "utc": true}}, "y": {"field": "g", "type": "quantitative"}}},
  {"data": {"name": "main"}, "transform": [{"filter": {"field": "ps", "valid": true}}],
   "mark": {"type": "line", "strokeWidth": 1.6, "clip": true},
   "encoding": {
     "x": {"field": "d", "type": "temporal", "scale": {"type": "utc", "domain": [1181537280000, 1288077120000], "nice": false},
           "axis": {"orient": "bottom", "offset": -35.3, "values": [1199145600000, 1216425600000, 1233705600000, 1250985600000, 1268265600000, 1285545600000], "tickCount": 30, "format": "%Y-%m-%d", "ticks": false, "labelPadding": 6, "labelOverlap": false, "title": "Date(day)", "titleX": 294, "titleY": 23.3, "titleBaseline": "middle", "titleAlign": "center"}},
     "y": {"field": "ps", "type": "quantitative", "scale": {"domain": [-325.3, 2320], "nice": false, "zero": false},
           "axis": {"orient": "left", "offset": -80, "values": [0, 200, 400, 600, 800, 1000, 1200, 1400, 1600, 1800, 2000], "tickCount": 30, "format": ",d", "labelOverlap": false, "ticks": true, "tickSize": 4, "tickColor": "#8c8c8c", "labelPadding": 4, "title": "Load(kg/day)", "titleX": -50, "titleY": 142, "titleAngle": -90, "titleBaseline": "middle", "titleAlign": "center"}},
     "stroke": {"datum": "Simulated", "type": "nominal", "scale": {"range": ["#4a7ebb"]}, "legend": {"orient": "none", "legendX": 88, "legendY": 37, "title": null, "symbolType": "stroke", "symbolSize": 256, "symbolStrokeWidth": 1.8, "labelOffset": 1, "padding": 0}}}},
  {"data": {"name": "main"}, "transform": [{"filter": {"field": "po", "valid": true}}],
   "mark": {"type": "point", "filled": true, "size": 18, "opacity": 1, "clip": true},
   "encoding": {"x": {"field": "d", "type": "temporal"}, "y": {"field": "po", "type": "quantitative"},
     "fill": {"datum": "Observed", "type": "nominal", "scale": {"range": ["#c9403a"]}, "legend": {"orient": "none", "legendX": 94, "legendY": 56.5, "title": null, "symbolType": "circle", "symbolSize": 16, "labelOffset": 7, "padding": 0}}}}
 ]
},
{"width": 491, "height": 31, "data": {"values": [{"t": "위천B \u00a0\u00a0TN \u00a0\u00a0보정결과"}]}, "mark": {"type": "text", "font": "Noto Sans CJK KR", "fontSize": 25, "color": "#111111", "baseline": "middle", "align": "center", "dy": 0.5}, "encoding": {"text": {"field": "t"}}},
{"width": 484, "height": 31, "data": {"values": [{"t": "위천B \u00a0\u00a0TP \u00a0\u00a0보정결과"}]}, "mark": {"type": "text", "font": "Noto Sans CJK KR", "fontSize": 25, "color": "#111111", "baseline": "middle", "align": "center", "dx": 4, "dy": 0.5}, "encoding": {"text": {"field": "t"}}}
]
}
